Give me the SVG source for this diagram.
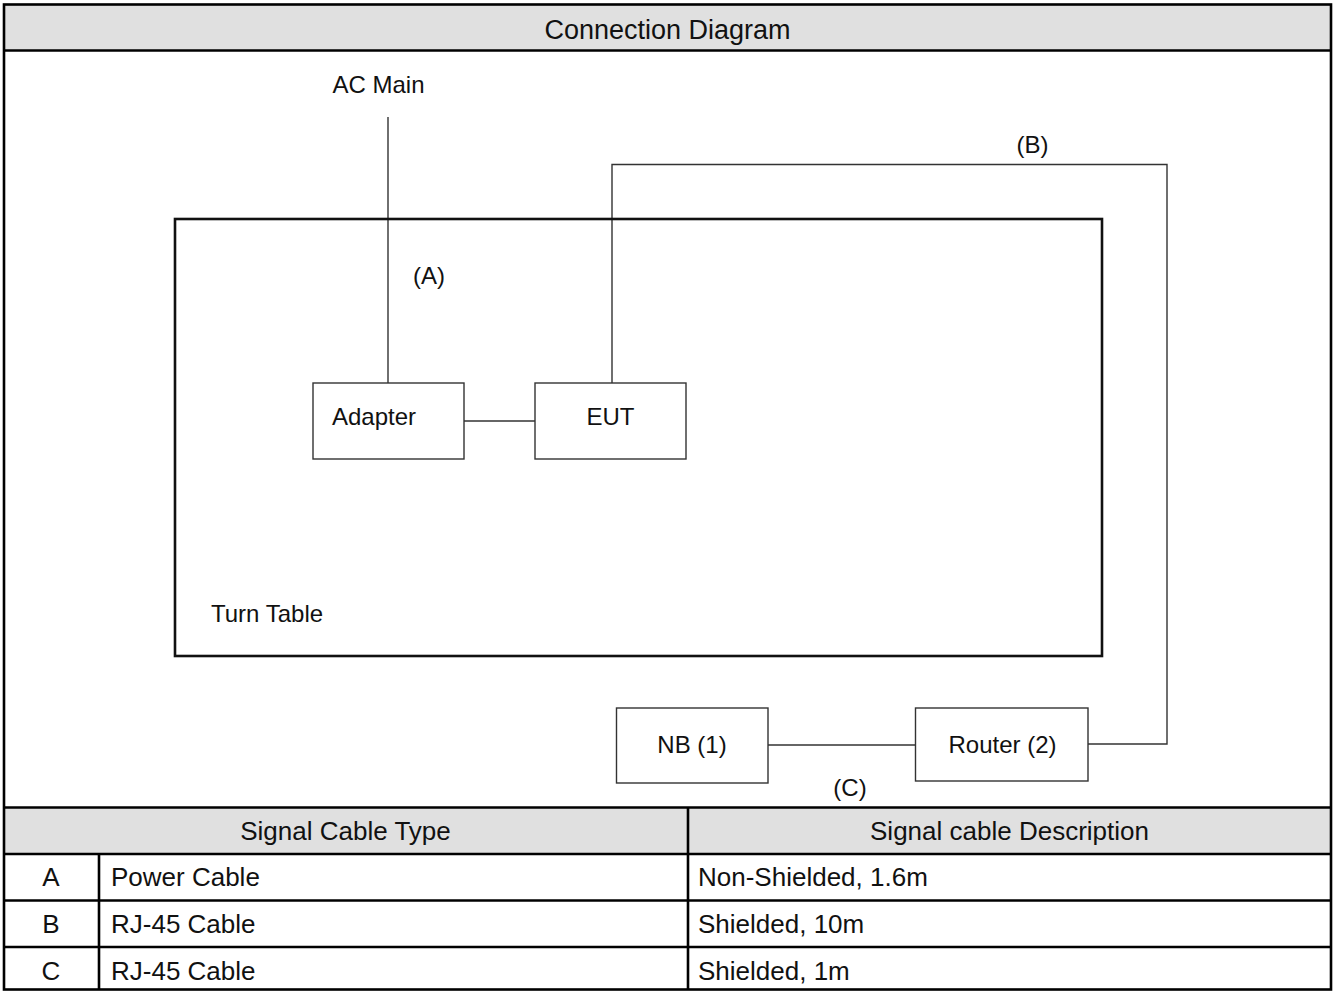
<svg xmlns="http://www.w3.org/2000/svg" width="1338" height="992" viewBox="0 0 1338 992">
<style>
text{font-family:"Liberation Sans",Arial,sans-serif;fill:#111}
.d{font-size:24px}
.t{font-size:26px}
.h{font-size:27px}
.frame{fill:none;stroke:#000;stroke-width:2.6}
.grid{stroke:#000;stroke-width:2.6;fill:none}
.box{fill:#fff;stroke:#333;stroke-width:1.4}
.wire{fill:none;stroke:#333;stroke-width:1.4}
.hd{fill:#e0e0e0}
</style>
<rect x="0" y="0" width="1338" height="992" fill="#fff"/>
<rect class="hd" x="4" y="4.5" width="1327" height="46"/>
<rect class="hd" x="4" y="807.5" width="1327" height="46.5"/>
<g id="frame">
<rect class="frame" x="4" y="4.5" width="1327" height="985"/>
<line class="grid" x1="4" y1="50.5" x2="1331" y2="50.5"/>
<line class="grid" x1="4" y1="807.5" x2="1331" y2="807.5"/>
<line class="grid" x1="4" y1="854" x2="1331" y2="854"/>
<line class="grid" x1="4" y1="900.5" x2="1331" y2="900.5"/>
<line class="grid" x1="4" y1="947" x2="1331" y2="947"/>
<line class="grid" x1="688" y1="807.5" x2="688" y2="989.5"/>
<line class="grid" x1="99" y1="854" x2="99" y2="989.5"/>
</g>
<text class="h" x="667.5" y="39" text-anchor="middle">Connection Diagram</text>
<g id="connectors">
<polyline class="wire" points="388,117 388,383"/>
<line class="wire" x1="464" y1="421" x2="535" y2="421"/>
<polyline class="wire" points="612,383 612,164.5 1167,164.5 1167,744 1088,744"/>
<line class="wire" x1="768" y1="745" x2="916" y2="745"/>
</g>
<g id="turntable">
<rect x="175" y="219" width="927" height="437" fill="none" stroke="#111" stroke-width="2.6"/>
<text class="d" x="211" y="621.5">Turn Table</text>
</g>
<g id="acmain"><text class="d" x="378.5" y="93" text-anchor="middle">AC Main</text></g>
<g id="labelA"><text class="d" x="413" y="284">(A)</text></g>
<g id="labelB"><text class="d" x="1032.5" y="153" text-anchor="middle">(B)</text></g>
<g id="labelC"><text class="d" x="850" y="796" text-anchor="middle">(C)</text></g>
<g id="adapter">
<rect class="box" x="313" y="383" width="151" height="76"/>
<text class="d" x="332" y="425">Adapter</text>
</g>
<g id="eut">
<rect class="box" x="535" y="383" width="151" height="76"/>
<text class="d" x="610.5" y="425" text-anchor="middle">EUT</text>
</g>
<g id="nb">
<rect class="box" x="616.5" y="708" width="151.5" height="75"/>
<text class="d" x="692" y="753" text-anchor="middle">NB (1)</text>
</g>
<g id="router">
<rect class="box" x="915.5" y="708" width="172.5" height="73" stroke-width="2"/>
<text class="d" x="1002.5" y="753" text-anchor="middle">Router (2)</text>
</g>
<g id="table">
<text class="t" x="345.5" y="839.5" text-anchor="middle">Signal Cable Type</text>
<text class="t" x="1009.5" y="839.5" text-anchor="middle">Signal cable Description</text>
<text class="t" x="51" y="886" text-anchor="middle">A</text>
<text class="t" x="111" y="886">Power Cable</text>
<text class="t" x="698" y="886">Non-Shielded, 1.6m</text>
<text class="t" x="51" y="933" text-anchor="middle">B</text>
<text class="t" x="111" y="933">RJ-45 Cable</text>
<text class="t" x="698" y="933">Shielded, 10m</text>
<text class="t" x="51" y="980" text-anchor="middle">C</text>
<text class="t" x="111" y="980">RJ-45 Cable</text>
<text class="t" x="698" y="980">Shielded, 1m</text>
</g>
</svg>
